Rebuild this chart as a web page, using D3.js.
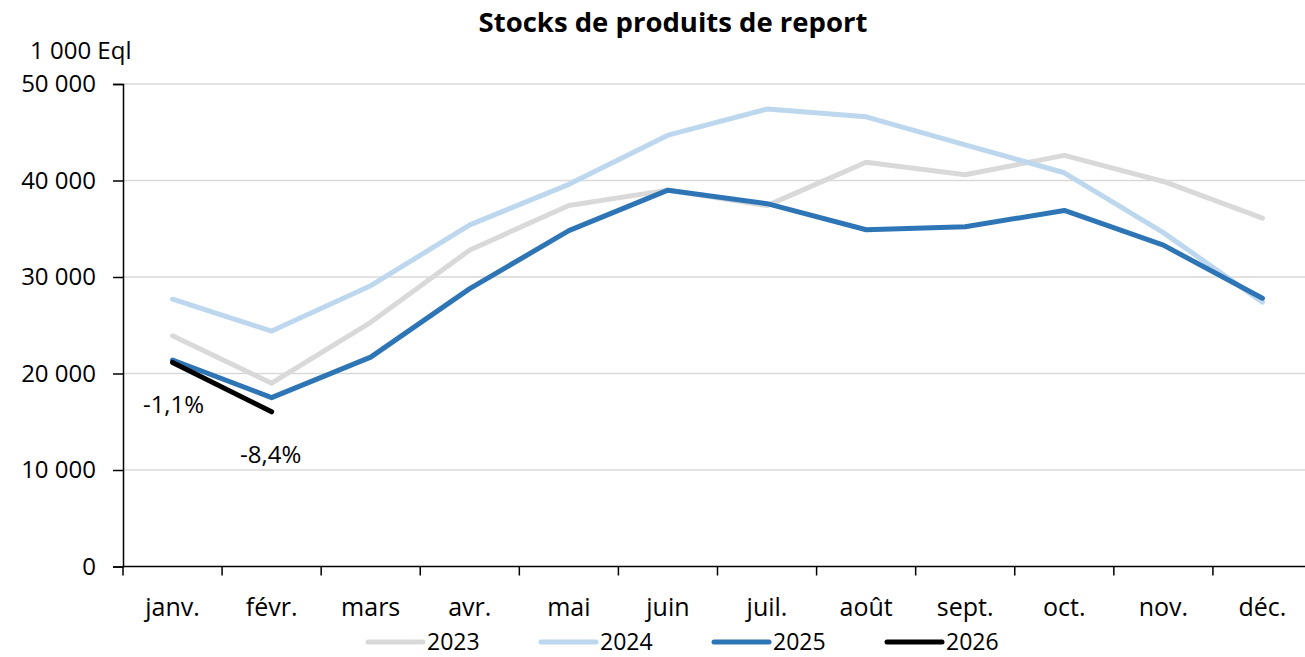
<!DOCTYPE html>
<html>
<head>
<meta charset="utf-8">
<script src="https://cdn.jsdelivr.net/npm/d3@7"></script>
<style>
  body { margin: 0; background: #fff; }
  svg text { font-family: "Open Sans", "Noto Sans", sans-serif; fill: #000; }
</style>
</head>
<body>
<svg id="chart" width="1305" height="657"></svg>
<script>
var months = ['janv.', 'févr.', 'mars', 'avr.', 'mai', 'juin', 'juil.', 'août', 'sept.', 'oct.', 'nov.', 'déc.'];
var yTicks = [0, 10000, 20000, 30000, 40000, 50000];

var s2023 = [23900, 19000, 25300, 32800, 37400, 39000, 37400, 41900, 40600, 42600, 39900, 36100];
var s2024 = [27700, 24400, 29100, 35400, 39600, 44700, 47400, 46600, 43700, 40800, 34600, 27400];
var s2025 = [21400, 17500, 21700, 28800, 34800, 39000, 37600, 34900, 35200, 36900, 33300, 27800];
var s2026 = [21150, 16030];
var notes = ['-1,1%', '-8,4%'];

var series = [
    {name: '2023', values: s2023, color: '#d9d9d9'},
    {name: '2024', values: s2024, color: '#bdd7ee'},
    {name: '2025', values: s2025, color: '#2e75b6'},
    {name: '2026', values: s2026, color: '#000000'}
];

var margin = {left: 123, right: 1312, top: 84, bottom: 566.5};
var svg = d3.select('#chart');

var x = d3.scaleBand().domain(months).range([margin.left, margin.right]);
var y = d3.scaleLinear().domain([0, 50000]).range([margin.bottom, margin.top]);
var fmt = function(v) { return d3.format(',')(v).replace(/,/g, ' '); };

// gridlines
svg.append('g')
    .selectAll('line')
    .data(yTicks.slice(1))
    .enter().append('line')
    .attr('x1', margin.left).attr('x2', margin.right)
    .attr('y1', d => y(d)).attr('y2', d => y(d))
    .attr('stroke', '#d9d9d9').attr('stroke-width', 1.5);

// y axis
var gY = svg.append('g')
    .attr('transform', 'translate(' + margin.left + ',0)')
    .call(d3.axisLeft(y).tickValues(yTicks).tickSize(10).tickPadding(17).tickFormat(fmt));
gY.selectAll('text').style('font-size', '24px');
gY.selectAll('line, path').attr('stroke', '#000').attr('stroke-width', 1.5);

// x axis, ticks at the band edges
var gX = svg.append('g')
    .attr('transform', 'translate(0,' + margin.bottom + ')');
gX.append('line')
    .attr('x1', margin.left).attr('x2', margin.right)
    .attr('stroke', '#000').attr('stroke-width', 1.5);
gX.selectAll('line.tick')
    .data(months)
    .enter().append('line')
    .attr('class', 'tick')
    .attr('x1', d => x(d)).attr('x2', d => x(d))
    .attr('y1', 0).attr('y2', 9)
    .attr('stroke', '#000').attr('stroke-width', 1.5);
gX.selectAll('text')
    .data(months)
    .enter().append('text')
    .attr('x', d => x(d) + x.bandwidth() / 2)
    .attr('y', 49)
    .attr('text-anchor', 'middle')
    .style('font-size', '25px')
    .text(d => d);

// lines
var line = d3.line()
    .x((d, i) => x(months[i]) + x.bandwidth() / 2)
    .y(d => y(d));

svg.append('g')
    .selectAll('path')
    .data(series)
    .enter().append('path')
    .attr('d', d => line(d.values))
    .attr('fill', 'none')
    .attr('stroke', d => d.color)
    .attr('stroke-width', 5)
    .attr('stroke-linejoin', 'round')
    .attr('stroke-linecap', 'round');

// change labels for 2026
var noteOffset = [{dx: 1, dy: 51}, {dx: -1, dy: 51}];
svg.append('g')
    .selectAll('text')
    .data(notes)
    .enter().append('text')
    .attr('x', (d, i) => x(months[i]) + x.bandwidth() / 2 + noteOffset[i].dx)
    .attr('y', (d, i) => y(s2026[i]) + noteOffset[i].dy)
    .attr('text-anchor', 'middle')
    .style('font-size', '24px')
    .text(d => d);

// titles
svg.append('text')
    .attr('x', 673).attr('y', 32)
    .attr('text-anchor', 'middle')
    .style('font-size', '27.5px').style('font-weight', 'bold')
    .text('Stocks de produits de report');

svg.append('text')
    .attr('x', 30).attr('y', 59)
    .style('font-size', '24px')
    .text('1 000 Eql');

// legend
var legend = svg.append('g')
    .selectAll('g')
    .data(series)
    .enter().append('g')
    .attr('transform', (d, i) => 'translate(' + (368 + i * 173) + ',642)');
legend.append('line')
    .attr('x1', 0).attr('x2', 55)
    .attr('stroke', d => d.color)
    .attr('stroke-width', 5)
    .attr('stroke-linecap', 'round');
legend.append('text')
    .attr('x', 59).attr('y', 8)
    .style('font-size', '23px')
    .text(d => d.name);
</script>
</body>
</html>
